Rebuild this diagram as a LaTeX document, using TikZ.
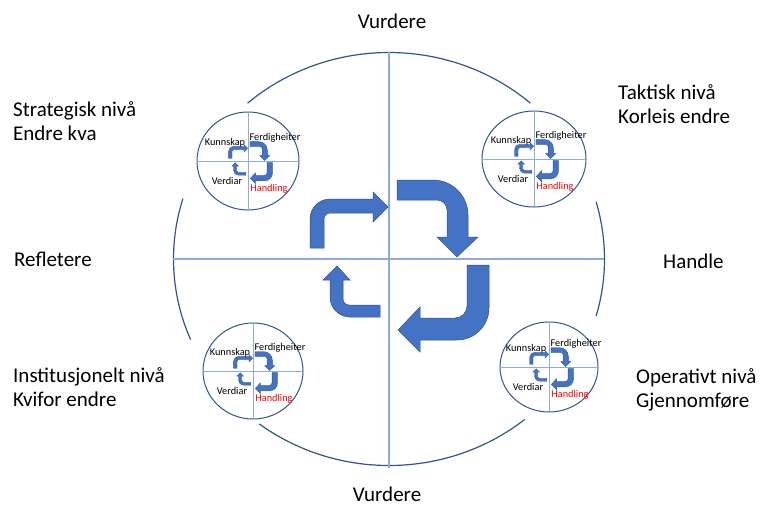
\documentclass[tikz,border=0pt]{standalone}
\usepackage{fontspec}
\setmainfont{Carlito}
\usetikzlibrary{shapes.geometric}

\definecolor{arrowblue}{HTML}{4472C4}
\definecolor{arrowedge}{HTML}{2F528F}
\definecolor{ringblue}{HTML}{2F5597}
\definecolor{crossblue}{HTML}{8FAADC}
\definecolor{actred}{HTML}{FF0000}

\tikzset{
  ring/.style={draw=ringblue, line width=1.2pt},
  crossline/.style={draw=crossblue, line width=1.4pt},
  smallring/.style={ellipse, draw=ringblue, line width=1pt, inner sep=0pt},
  smallcross/.style={draw=crossblue, line width=1pt},
  cyclearrow/.style={fill=arrowblue, draw=arrowedge, line width=0.5pt},
  minilabel/.style={font=\fontsize{10.3}{12}\selectfont, anchor=base, inner sep=0pt},
  biglabel/.style={font=\fontsize{21}{25}\selectfont, anchor=base west, inner sep=0pt},
  toplabel/.style={font=\fontsize{21}{25}\selectfont, anchor=base, inner sep=0pt},
}

% four bent arrows forming a clockwise cycle around the origin
\newcommand{\cyclearrows}[1]{%
  % up and to the right
  \draw[cyclearrow,#1] (-79,-11) -- (-65,-11) -- (-65,-40)
    .. controls (-65,-43.3) and (-62.3,-46) .. (-59,-46) -- (-16,-46) -- (-16,-37)
    -- (-1,-52) -- (-16,-67) -- (-16,-60) -- (-59,-60)
    .. controls (-70,-60) and (-79,-51) .. (-79,-40) -- cycle;
  % right and down
  \draw[cyclearrow,#1] (8,-79) -- (44,-79)
    .. controls (63.3,-79) and (79,-63.3) .. (79,-44) -- (79,-22) -- (89,-22)
    -- (68,-2) -- (48,-22) -- (58,-22) -- (58,-49)
    .. controls (58,-54.5) and (53.5,-59) .. (48,-59) -- (8,-59) -- cycle;
  % down and to the left
  \draw[cyclearrow,#1] (78,6) -- (100,6) -- (100,49)
    .. controls (100,66.6) and (85.6,81) .. (68,81) -- (31,81) -- (31,93)
    -- (9,71) -- (31,48) -- (31,59) -- (66,59)
    .. controls (72.6,59) and (78,53.6) .. (78,47) -- cycle;
  % left and up
  \draw[cyclearrow,#1] (-9,46) -- (-9,58) -- (-39,58)
    .. controls (-50,58) and (-59,49) .. (-59,38) -- (-59,21) -- (-66,21)
    -- (-52,7) -- (-39,21) -- (-46,21) -- (-46,40)
    .. controls (-46,43.3) and (-43.3,46) .. (-40,46) -- cycle;
}

% small ring with cross, mini cycle and the four labels
% #1 name, #2 x, #3 y, #4 width, #5 height
\newcommand{\minicycle}[5]{%
  \node[smallring, minimum width=#4, minimum height=#5] (#1) at (#2,#3) {};
  \draw[smallcross] (#1.west) -- (#1.east);
  \draw[smallcross] (#1.north) -- (#1.south);
  \begin{scope}[shift={(#2,#3)}, scale=0.245]
    \cyclearrows{line width=0.3pt}
  \end{scope}
  \begin{scope}[shift={(#2,#3)}]
    \node[minilabel] (#1-k) at (-23,-15.7) {Kunnskap};
    \node[minilabel] (#1-f) at (27,-21) {Ferdigheiter};
    \node[minilabel] (#1-v) at (-21,23.3) {Verdiar};
    \node[minilabel, text=actred] (#1-h) at (21,30.3) {Handling};
  \end{scope}
}

\begin{document}
\begin{tikzpicture}[x=1pt, y=-1pt]
  \useasboundingbox (0,0) rectangle (760,506);
  \fill[white] (0,0) rectangle (760,506);

  % outer ring, split into four arcs
  \coordinate (hub) at (389,259);
  \draw[ring] ([shift={(49:215.5pt and 206.5pt)}]hub)
    arc[start angle=49, end angle=131, x radius=215.5pt, y radius=206.5pt];
  \draw[ring] ([shift={(163:215.5pt and 206.5pt)}]hub)
    arc[start angle=163, end angle=203, x radius=215.5pt, y radius=206.5pt];
  \draw[ring] ([shift={(233:215.5pt and 206.5pt)}]hub)
    arc[start angle=233, end angle=309, x radius=215.5pt, y radius=206.5pt];
  \draw[ring] ([shift={(-16:215.5pt and 206.5pt)}]hub)
    arc[start angle=-16, end angle=16, x radius=215.5pt, y radius=206.5pt];

  % axes of the ring
  \coordinate (west) at (173,259);
  \coordinate (east) at (604,259);
  \coordinate (north) at (389,52);
  \coordinate (south) at (389,468);
  \draw[crossline] (west) -- (east);
  \draw[crossline] (north) -- (south);

  % central cycle
  \begin{scope}[shift={(hub)}]
    \cyclearrows{}
  \end{scope}

  % the four levels
  \minicycle{tl}{248}{161}{102pt}{98pt}
  \minicycle{tr}{534}{159}{104pt}{96pt}
  \minicycle{bl}{253}{371}{100pt}{96pt}
  \minicycle{br}{549}{367}{98pt}{90pt}

  % phase labels
  \node[toplabel] (vtop) at (392,28.5) {Vurdere};
  \node[toplabel] (vbot) at (387,501) {Vurdere};
  \node[biglabel] (refl) at (14,266.5) {Refletere};
  \node[biglabel] (hand) at (663,268.5) {Handle};

  % level labels
  \node[biglabel] (strat1) at (13,116.5) {Strategisk nivå};
  \node[biglabel] (strat2) at (13,140) {Endre kva};
  \node[biglabel] (takt1) at (618,99.5) {Taktisk nivå};
  \node[biglabel] (takt2) at (618,123) {Korleis endre};
  \node[biglabel] (inst1) at (13,382.5) {Institusjonelt nivå};
  \node[biglabel] (inst2) at (13,406.5) {Kvifor endre};
  \node[biglabel] (oper1) at (636,383.5) {Operativt nivå};
  \node[biglabel] (oper2) at (636,407.5) {Gjennomføre};
\end{tikzpicture}
\end{document}
